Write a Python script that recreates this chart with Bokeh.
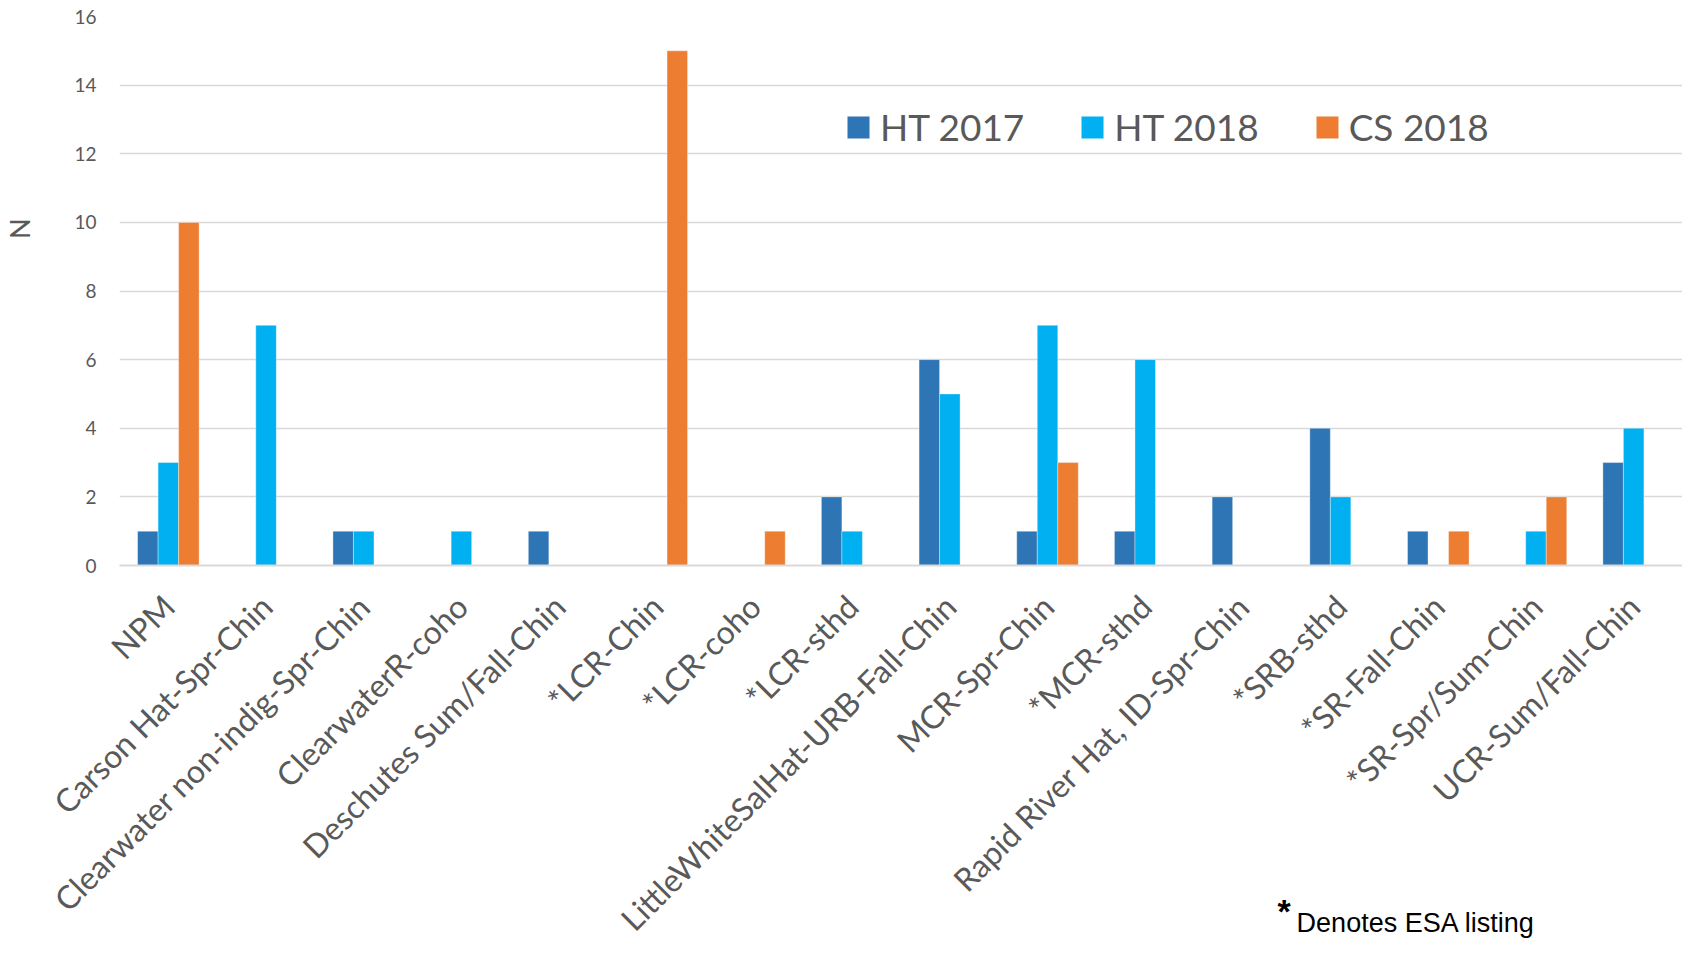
from bokeh.plotting import figure
from bokeh.models import FactorRange, Legend, LegendItem, Label
from bokeh.transform import dodge
from bokeh.embed import file_html
from bokeh.resources import INLINE
from bokeh.models import ColumnDataSource
from bokeh.layouts import column
import math

categories = ["NPM", "Carson Hat-Spr-Chin", "Clearwater non-indig-Spr-Chin", "ClearwaterR-coho",
              "Deschutes Sum/Fall-Chin", "*LCR-Chin", "*LCR-coho", "*LCR-sthd",
              "LittleWhiteSalHat-URB-Fall-Chin", "MCR-Spr-Chin", "*MCR-sthd",
              "Rapid River Hat, ID-Spr-Chin", "*SRB-sthd", "*SR-Fall-Chin", "*SR-Spr/Sum-Chin",
              "UCR-Sum/Fall-Chin"]
ht2017 = [1, 0, 1, 0, 1, 0, 0, 2, 6, 1, 1, 2, 4, 1, 0, 3]
ht2018 = [3, 7, 1, 1, 0, 0, 0, 1, 5, 7, 6, 0, 2, 0, 1, 4]
cs2018 = [10, 0, 0, 0, 0, 15, 1, 0, 0, 3, 0, 0, 0, 1, 2, 0]
series_names = ["HT 2017", "HT 2018", "CS 2018"]
colors = ["#2E75B6", "#00B0F0", "#ED7D31"]
y_ticks = [0, 2, 4, 6, 8, 10, 12, 14, 16]
footnote_star = "*"
footnote_text = "Denotes ESA listing"

src = ColumnDataSource(dict(cat=categories, a=ht2017, b=ht2018, c=cs2018))

FONT = "Lato"
GRAY = "#595959"

p = figure(x_range=FactorRange(*categories, range_padding=0), y_range=(0, 16),
           width=1682, height=955, output_backend="svg", toolbar_location=None,
           min_border_left=108, min_border_right=0, min_border_top=16, min_border_bottom=390)
p.outline_line_color = None

w = 0.21
renderers = []
for key, off, col in zip(["a", "b", "c"], [-w, 0, w], colors):
    r = p.vbar(x=dodge("cat", off, range=p.x_range), top=key, width=w, source=src,
               fill_color=col, line_color="white", line_width=0.6, line_alpha=0.6)
    renderers.append(r)

legend = Legend(items=[LegendItem(label=n, renderers=[r]) for n, r in zip(series_names, renderers)],
                orientation="horizontal", location=(725, 416),
                label_text_font=FONT, label_text_font_size="37px", label_text_color=GRAY,
                glyph_width=28, glyph_height=28, spacing=54, padding=0, margin=0,
                label_standoff=8, border_line_color=None, background_fill_alpha=0,
                label_height=36)
p.add_layout(legend)

p.yaxis.ticker = y_ticks
p.yaxis.axis_line_color = None
p.yaxis.major_tick_line_color = None
p.yaxis.minor_tick_line_color = None
p.yaxis.major_label_text_font = FONT
p.yaxis.major_label_text_font_size = "19px"
p.yaxis.major_label_text_color = GRAY
p.yaxis.major_label_standoff = 17
p.yaxis.axis_label = "\u00a0" * 18 + "N"
p.yaxis.axis_label_text_font = FONT
p.yaxis.axis_label_text_font_style = "normal"
p.yaxis.axis_label_text_font_size = "27px"
p.yaxis.axis_label_text_color = GRAY
p.yaxis.axis_label_standoff = 35

p.xaxis.axis_line_color = "#D9D9D9"
p.xaxis.axis_line_width = 2
p.xaxis.major_tick_line_color = None
p.xaxis.minor_tick_line_color = None
p.xaxis.major_label_orientation = math.pi / 4
p.xaxis.major_label_text_font = FONT
p.xaxis.major_label_text_font_size = "32px"
p.xaxis.major_label_text_color = GRAY
p.xaxis.major_label_standoff = 29

p.xgrid.grid_line_color = None
p.ygrid.grid_line_color = "#D9D9D9"
p.ygrid.grid_line_width = 1.5

# footnote in a small transparent overlay figure (its frame aligns with the main frame's left border)
foot = figure(width=420, height=60, x_range=(0, 300), y_range=(0, 60),
              output_backend="svg", toolbar_location=None,
              x_axis_location=None, y_axis_location=None, min_border=0,
              margin=(-65, 0, 0, 1148))
foot.grid.visible = False
foot.outline_line_color = None
foot.background_fill_alpha = 0
foot.border_fill_alpha = 0
foot.add_layout(Label(x=10, y=59, text=footnote_star, text_font="Liberation Sans",
                      text_font_size="34px", text_font_style="bold", text_color="black",
                      text_baseline="top"))
foot.add_layout(Label(x=29, y=28, text=footnote_text, text_font="Liberation Sans",
                      text_font_size="27px", text_color="black", text_baseline="middle"))

layout = column(p, foot, spacing=0)
open("out.html", "w").write(file_html(layout, INLINE))
